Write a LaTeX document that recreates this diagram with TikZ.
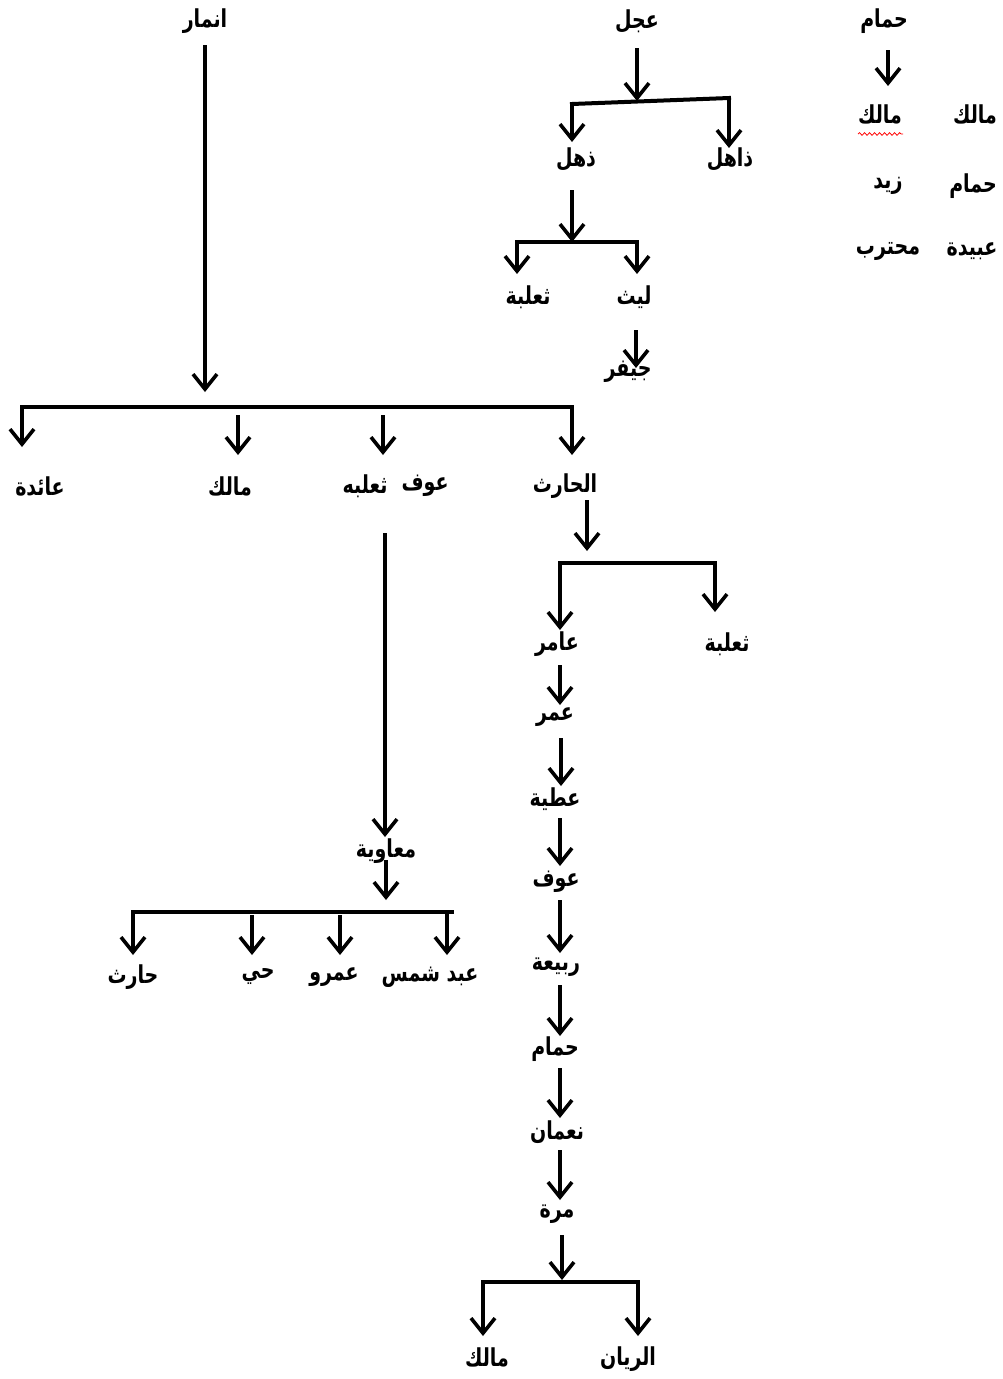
\documentclass[tikz,border=0pt]{standalone}
\usepackage{fontspec}
\usepackage{graphicx}
\usetikzlibrary{arrows.meta,decorations.pathmorphing}
\TeXXeTstate=1
\newfontfamily\arabicfont[Script=Arabic]{DejaVu Sans}
\newcommand{\artxt}[1]{\scalebox{1}[1.3]{\arabicfont\bfseries\beginR #1\endR}}
\begin{document}
\begin{tikzpicture}[x=1pt,y=-1pt,
  lbl/.style={inner sep=0pt, font=\fontsize{19}{22}\selectfont},
  arr/.style={line width=3.8pt, -{Straight Barb[length=15pt,width=24pt,line width=3.6pt]}},
  barline/.style={line width=4pt, line cap=rect},
  wavy/.style={draw=red, line width=0.8pt, decorate, decoration={snake, amplitude=1.3pt, segment length=5pt}}]
\useasboundingbox (0,0) rectangle (1003,1379);

% ---------- labels ----------
\node[lbl] (anmar)    at (205,21)   {\artxt{انمار}};
\node[lbl] (ajal)     at (637,21)   {\artxt{عجل}};
\node[lbl] (hamam)    at (884,21)   {\artxt{حمام}};
\node[lbl] (malikA)   at (880,114)  {\artxt{مالك}};
\node[lbl] (malikB)   at (975,114)  {\artxt{مالك}};
\node[lbl] (zayd)     at (888,186)  {\artxt{زيد}};
\node[lbl] (hamamB)   at (973,186)  {\artxt{حمام}};
\node[lbl] (muhtarib) at (888,251)  {\artxt{محترب}};
\node[lbl] (ubayda)   at (972,251)  {\artxt{عبيدة}};
\node[lbl] (dhuhl)    at (576,159)  {\artxt{ذهل}};
\node[lbl] (dhahil)   at (730,159)  {\artxt{ذاهل}};
\node[lbl] (thalabaA) at (528,297)  {\artxt{ثعلبة}};
\node[lbl] (layth)    at (634,297)  {\artxt{ليث}};
\node[lbl] (jayfar)   at (628,372)  {\artxt{جيفر}};
\node[lbl] (aida)     at (40,486)   {\artxt{عائدة}};
\node[lbl] (malikC)   at (230,486)  {\artxt{مالك}};
\node[lbl] (thalabaB) at (365,486)  {\artxt{ثعلبه}};
\node[lbl] (awfA)     at (425,486)  {\artxt{عوف}};
\node[lbl] (harith)   at (565,486)  {\artxt{الحارث}};
\node[lbl] (amir)     at (557,644)  {\artxt{عامر}};
\node[lbl] (thalabaC) at (727,644)  {\artxt{ثعلبة}};
\node[lbl] (umar)     at (555,717)  {\artxt{عمر}};
\node[lbl] (atiyya)   at (555,799)  {\artxt{عطية}};
\node[lbl] (awfB)     at (556,882)  {\artxt{عوف}};
\node[lbl] (rabia)    at (556,967)  {\artxt{ربيعة}};
\node[lbl] (hamamC)   at (555,1049) {\artxt{حمام}};
\node[lbl] (numan)    at (557,1132) {\artxt{نعمان}};
\node[lbl] (murra)    at (557,1214) {\artxt{مرة}};
\node[lbl] (malikD)   at (487,1357) {\artxt{مالك}};
\node[lbl] (rayyan)   at (628,1359) {\artxt{الريان}};
\node[lbl] (muawiya)  at (386,851)  {\artxt{معاوية}};
\node[lbl] (harithB)  at (133,977)  {\artxt{حارث}};
\node[lbl] (hayy)     at (258,977)  {\artxt{حي}};
\node[lbl] (amr)      at (334,977)  {\artxt{عمرو}};
\node[lbl] (abdshams) at (430,977)  {\artxt{عبد شمس}};

\draw[wavy] (858,134) -- (903,134);

% ---------- coordinates ----------
% عجل
\coordinate (a1) at (637,48);  \coordinate (a1m) at (637,101);
\coordinate (a1L) at (572,104); \coordinate (a1R) at (729,98);
\coordinate (a1Le) at (572,142); \coordinate (a1Re) at (729,148);
% ذهل
\coordinate (d1) at (572,190); \coordinate (d1m) at (572,242);
\coordinate (d1L) at (517,242); \coordinate (d1R) at (637,242);
\coordinate (d1Le) at (517,274); \coordinate (d1Re) at (637,274);
% ليث
\coordinate (l1) at (636,330); \coordinate (l1e) at (636,368);
% حمام
\coordinate (h1) at (888,50); \coordinate (h1e) at (888,86);
% انمار
\coordinate (n1) at (205,45); \coordinate (n1e) at (205,392);
\coordinate (n1L) at (22,407); \coordinate (n1R) at (572,407);
\coordinate (n1Le) at (22,447);
\coordinate (n1b) at (238,415); \coordinate (n1be) at (238,455);
\coordinate (n1c) at (383,415); \coordinate (n1ce) at (383,455);
\coordinate (n1Re) at (572,455);
% ثعلبه / عوف -> معاوية
\coordinate (t1) at (385,533); \coordinate (t1e) at (385,837);
% معاوية
\coordinate (m1) at (386,860); \coordinate (m1e) at (386,900);
\coordinate (m1L) at (133,912); \coordinate (m1R) at (452,912);
\coordinate (m1a) at (133,912); \coordinate (m1ae) at (133,955);
\coordinate (m1b) at (252,915); \coordinate (m1be) at (252,955);
\coordinate (m1c) at (340,915); \coordinate (m1ce) at (340,955);
\coordinate (m1d) at (447,912); \coordinate (m1de) at (447,955);
% الحارث
\coordinate (r1) at (587,500); \coordinate (r1e) at (587,551);
\coordinate (r1L) at (560,563); \coordinate (r1R) at (715,563);
\coordinate (r1Le) at (560,630); \coordinate (r1Re) at (715,612);
% chain
\coordinate (c1) at (560,665);  \coordinate (c1e) at (560,705);
\coordinate (c2) at (561,738);  \coordinate (c2e) at (561,786);
\coordinate (c3) at (560,818);  \coordinate (c3e) at (560,866);
\coordinate (c4) at (560,900);  \coordinate (c4e) at (560,953);
\coordinate (c5) at (560,985);  \coordinate (c5e) at (560,1036);
\coordinate (c6) at (560,1068); \coordinate (c6e) at (560,1118);
\coordinate (c7) at (560,1150); \coordinate (c7e) at (560,1200);
\coordinate (c8) at (562,1235); \coordinate (c8e) at (562,1280);
\coordinate (e1L) at (483,1282); \coordinate (e1R) at (638,1282);
\coordinate (e1Le) at (483,1336); \coordinate (e1Re) at (638,1336);

% ---------- connectors ----------
\draw[arr] (a1) -- (a1m);
\draw[barline] (a1L) -- (a1R);
\draw[arr] (a1L) -- (a1Le);
\draw[arr] (a1R) -- (a1Re);

\draw[arr] (d1) -- (d1m);
\draw[barline] (d1L) -- (d1R);
\draw[arr] (d1L) -- (d1Le);
\draw[arr] (d1R) -- (d1Re);

\draw[arr] (l1) -- (l1e);
\draw[arr] (h1) -- (h1e);

\draw[arr] (n1) -- (n1e);
\draw[barline] (n1L) -- (n1R);
\draw[arr] (n1L) -- (n1Le);
\draw[arr] (n1b) -- (n1be);
\draw[arr] (n1c) -- (n1ce);
\draw[arr] (n1R) -- (n1Re);

\draw[arr] (t1) -- (t1e);

\draw[arr] (m1) -- (m1e);
\draw[barline] (m1L) -- (m1R);
\draw[arr] (m1a) -- (m1ae);
\draw[arr] (m1b) -- (m1be);
\draw[arr] (m1c) -- (m1ce);
\draw[arr] (m1d) -- (m1de);

\draw[arr] (r1) -- (r1e);
\draw[barline] (r1L) -- (r1R);
\draw[arr] (r1L) -- (r1Le);
\draw[arr] (r1R) -- (r1Re);

\draw[arr] (c1) -- (c1e);
\draw[arr] (c2) -- (c2e);
\draw[arr] (c3) -- (c3e);
\draw[arr] (c4) -- (c4e);
\draw[arr] (c5) -- (c5e);
\draw[arr] (c6) -- (c6e);
\draw[arr] (c7) -- (c7e);
\draw[arr] (c8) -- (c8e);
\draw[barline] (e1L) -- (e1R);
\draw[arr] (e1L) -- (e1Le);
\draw[arr] (e1R) -- (e1Re);
\end{tikzpicture}
\end{document}
